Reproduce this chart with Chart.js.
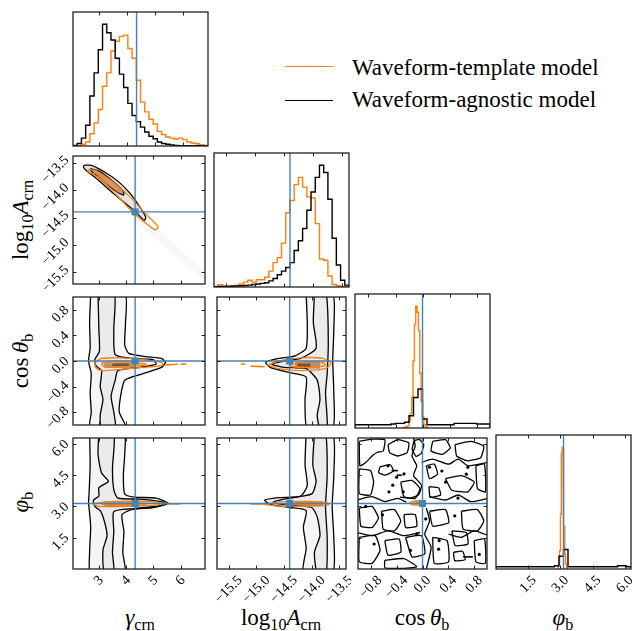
<!DOCTYPE html>
<html>
<head>
<meta charset="utf-8">
<script src="https://cdn.jsdelivr.net/npm/chart.js@4.4.0/dist/chart.umd.min.js"></script>
<style>
  html, body { margin: 0; padding: 0; background: #fff; }
  body { width: 641px; height: 631px; position: relative; overflow: hidden;
         font-family: "Liberation Serif", "DejaVu Serif", serif; color: #000; }
  canvas { position: absolute; }
  .xt, .yt { position: absolute; font-family: "Liberation Serif", serif; font-size: 23px; line-height: 23px; white-space: nowrap; }
  .xt { top: 606px; transform: translateX(-50%); }
  .yt { transform: translate(-50%, -50%) rotate(-90deg); }
  .s { font-size: 70%; position: relative; top: 0.3em; }
  .leg-line { position: absolute; left: 285px; width: 48px; height: 0; }
  .leg-text { position: absolute; left: 352px; font-size: 23px; line-height: 23px; white-space: nowrap; }
</style>
</head>
<body>

<div class="xt" style="left:140px"><i>γ</i><span class="s">crn</span></div>
<div class="xt" style="left:281px">log<span class="s">10</span><i>A</i><span class="s">crn</span></div>
<div class="xt" style="left:422px">cos&#8201;<i>θ</i><span class="s">b</span></div>
<div class="xt" style="left:563px"><i>φ</i><span class="s">b</span></div>

<div class="yt" style="left:21px; top:220px">log<span class="s">10</span><i>A</i><span class="s">crn</span></div>
<div class="yt" style="left:21px; top:361px">cos&#8201;<i>θ</i><span class="s">b</span></div>
<div class="yt" style="left:21px; top:502px"><i>φ</i><span class="s">b</span></div>

<div class="leg-line" style="top:66px; border-top:1.5px solid #ff7f0e"></div>
<div class="leg-text" style="top:56px">Waveform-template model</div>
<div class="leg-line" style="top:100px; border-top:1.5px solid #000"></div>
<div class="leg-text" style="top:88px">Waveform-agnostic model</div>

<script>
// axis ranges, ticks and true values
const gammaRange = [2.05, 6.9];
const logARange = [-15.71, -13.38];
const cosRange = [-1, 1];
const phiRange = [0, 6.283];
const histRange = [0, 1.1];

const gammaTicks = [3, 4, 5, 6];
const logATicks = [-15.5, -15.0, -14.5, -14.0, -13.5];
const cosTicks = [-0.8, -0.4, 0.0, 0.4, 0.8];
const phiTicks = [1.5, 3.0, 4.5, 6.0];

const gammaTrue = 4.333;
const logATrue = -14.398;
const cosTrue = 0.0;
const phiTrue = 3.1416;

// 1D histograms (normalised heights), bins spread evenly over the given range
const gammaHistBlack = [0.005, 0.02, 0.065, 0.17, 0.41, 0.60, 0.79, 1.0, 0.93, 0.87, 0.72, 0.59, 0.48, 0.35, 0.25, 0.20,
  0.155, 0.115, 0.08, 0.06, 0.033, 0.02, 0.014, 0.008, 0.005, 0.003, 0.003, 0.003, 0.002, 0.002, 0.001, 0.001];
const gammaHistOrange = [0, 0.003, 0.014, 0.033, 0.10, 0.19, 0.30, 0.49, 0.60, 0.78, 0.86, 0.90, 0.91, 0.80, 0.72, 0.54,
  0.36, 0.28, 0.22, 0.18, 0.12, 0.095, 0.074, 0.065, 0.057, 0.065, 0.052, 0.033, 0.025, 0.019, 0.011, 0.005];

const logAHistBlack = [0.003, 0.005, 0.005, 0.005, 0.006, 0.008, 0.01, 0.012, 0.015, 0.02, 0.025, 0.03, 0.035, 0.05, 0.07, 0.10,
  0.13, 0.16, 0.20, 0.30, 0.38, 0.48, 0.63, 0.78, 0.90, 1.0, 0.94, 0.72, 0.40, 0.18, 0.055, 0.015];
const logAHistOrange = [0.005, 0.018, 0.008, 0.008, 0.01, 0.012, 0.025, 0.04, 0.055, 0.04, 0.06, 0.06, 0.08, 0.13, 0.20, 0.24,
  0.36, 0.61, 0.71, 0.84, 0.90, 0.82, 0.74, 0.73, 0.52, 0.23, 0.22, 0.09, 0.02, 0.01, 0.005, 0];

const cosHistBlack = [0.027, 0.027, 0.027, 0.027, 0.027, 0.027, 0.027, 0.027, 0.033, 0.038, 0.038, 0.047, 0.10, 0.25, 0.32,
  0.074, 0.027, 0.027, 0.027, 0.027, 0.027, 0.027, 0.038, 0.038, 0.038, 0.038, 0.038, 0.033, 0.033, 0.033];
const cosOrangeBins = [-0.3, 0.1];
const cosHistOrange = [0, 0.005, 0.008, 0.01, 0.015, 0.06, 0.12, 0.25, 0.55, 0.85, 1.0, 0.95, 0.80, 0.45, 0.22, 0.09, 0.03, 0.01, 0.005, 0];

const phiHistBlack = [0.019, 0.019, 0.019, 0.019, 0.019, 0.019, 0.019, 0.019, 0.019, 0.019, 0.019, 0.019, 0.019, 0.027, 0.105,
  0.16, 0.019, 0.019, 0.019, 0.019, 0.019, 0.019, 0.019, 0.019, 0.019, 0.019, 0.019, 0.027, 0.027, 0.019];
const phiOrangeBins = [2.88, 3.32];
const phiHistOrange = [0.02, 0.05, 0.15, 0.45, 0.95, 1.0, 0.7, 0.35, 0.12, 0.04, 0.01];

// 2D contours, [x, y] in data units
const gammaLogABlack = [
  [[2.45, -13.55], [2.73, -13.55], [3.27, -13.69], [3.75, -13.86], [4.18, -14.08], [4.48, -14.29], [4.72, -14.49], [4.66, -14.55],
   [4.36, -14.40], [3.87, -14.20], [3.39, -14.0], [2.91, -13.79], [2.55, -13.65], [2.43, -13.58]],
  [[2.69, -13.61], [3.03, -13.66], [3.51, -13.84], [3.90, -14.02], [3.90, -14.09], [3.57, -14.0], [3.15, -13.82], [2.79, -13.69], [2.69, -13.63]]
];
const gammaLogAOrange = [
  [[2.64, -13.62], [2.91, -13.65], [3.51, -13.85], [4.12, -14.11], [4.60, -14.37], [5.02, -14.58], [5.18, -14.67], [5.06, -14.72],
   [4.72, -14.60], [4.23, -14.40], [3.75, -14.14], [3.27, -13.91], [2.85, -13.73], [2.60, -13.66]],
  [[2.85, -13.68], [3.27, -13.78], [3.73, -13.97], [3.75, -14.04], [3.39, -13.91], [2.97, -13.76], [2.80, -13.71]]
];
const gammaLogAShade = [[4.3, -14.35], [6.85, -15.45], [6.8, -15.62], [4.3, -14.55]];

const gammaCosBlack = [
  [[2.70, 1.05], [2.66, 0.6], [2.68, 0.2], [2.62, 0.0], [2.72, -0.2], [2.68, -0.5], [2.72, -0.8], [2.68, -1.05], [3.99, -1.05],
   [3.75, -0.8], [3.80, -0.55], [3.95, -0.3], [4.6, -0.2], [5.3, -0.1], [5.45, -0.02], [5.3, 0.04], [4.7, 0.07], [4.1, 0.12],
   [3.95, 0.25], [3.98, 0.6], [3.96, 1.05]],
  [[2.97, 1.05], [3.0, 0.5], [3.02, 0.15], [2.85, 0.02], [2.9, -0.08], [3.1, -0.15], [3.05, -0.4], [3.15, -0.6], [3.05, -0.85],
   [3.1, -1.05], [3.6, -1.05], [3.55, -0.8], [3.45, -0.55], [3.6, -0.3], [3.7, -0.15], [4.5, -0.1], [5.1, -0.05], [5.0, 0.02],
   [4.2, 0.04], [3.6, 0.1], [3.55, 0.5], [3.57, 1.05]]
];
const gammaCosOrange = [
  [[2.85, -0.02], [3.1, 0.04], [3.8, 0.05], [4.5, 0.03], [5.3, -0.02], [5.35, -0.07], [4.6, -0.1], [3.8, -0.13], [3.1, -0.15], [2.88, -0.1]],
  [[3.1, -0.03], [3.6, 0.0], [4.3, -0.02], [4.75, -0.05], [4.3, -0.08], [3.6, -0.09], [3.15, -0.08]]
];
const gammaCosOrangeTail = [[[5.45, -0.06], [5.9, -0.05]], [[6.0, -0.05], [6.22, -0.05]]];
const gammaCosCore = [[[3.2, -0.02], [4.35, -0.02], [4.35, -0.11], [3.2, -0.11]], [[3.5, -0.04], [4.1, -0.04], [4.1, -0.09], [3.5, -0.09]]];

const logACosBlack = [
  [[-14.1, 1.05], [-14.08, 0.6], [-14.1, 0.2], [-14.3, 0.08], [-14.6, 0.04], [-14.83, -0.02], [-14.75, -0.1], [-14.4, -0.18],
   [-14.1, -0.25], [-14.12, -0.6], [-14.08, -1.05], [-13.62, -1.05], [-13.6, -0.5], [-13.62, 0], [-13.6, 0.5], [-13.62, 1.05]],
  [[-13.95, 1.05], [-13.97, 0.6], [-13.92, 0.2], [-14.2, 0.04], [-14.5, 0.0], [-14.72, -0.05], [-14.5, -0.1], [-14.1, -0.12],
   [-13.9, -0.3], [-13.85, -0.6], [-13.9, -0.85], [-13.85, -1.05], [-13.72, -1.05], [-13.75, -0.5], [-13.72, -0.2], [-13.7, 0.3], [-13.74, 1.05]]
];
const logACosOrange = [
  [[-14.8, -0.06], [-14.6, 0.0], [-14.2, 0.05], [-13.8, 0.04], [-13.65, -0.03], [-13.75, -0.12], [-14.2, -0.15], [-14.6, -0.12]],
  [[-14.4, -0.05], [-14.1, -0.01], [-13.8, -0.02], [-13.75, -0.07], [-14.0, -0.1], [-14.35, -0.09]]
];
const logACosOrangeTail = [[[-15.1, -0.08], [-14.85, -0.09]], [[-15.28, -0.05], [-15.2, -0.05]]];
const logACosCore = [[[-14.3, -0.01], [-13.85, -0.01], [-13.85, -0.12], [-14.3, -0.12]], [[-14.26, -0.04], [-14.02, -0.04], [-14.02, -0.09], [-14.26, -0.09]]];

const gammaPhiBlack = [
  [[2.66, 6.5], [2.68, 5.0], [2.64, 3.6], [2.62, 3.2], [2.65, 2.8], [2.7, 2.0], [2.66, 0.8], [2.7, -0.2], [3.95, -0.2], [3.88, 0.8],
   [3.92, 1.8], [3.85, 2.6], [4.2, 2.85], [5.0, 2.95], [5.55, 3.15], [5.1, 3.4], [4.3, 3.45], [3.95, 3.6], [3.9, 4.5], [3.95, 5.5], [3.92, 6.5]],
  [[3.0, 6.5], [2.97, 5.5], [3.1, 4.6], [3.35, 4.2], [3.0, 3.9], [3.0, 3.5], [2.8, 3.3], [2.85, 3.0], [3.05, 2.8], [3.2, 2.3], [3.3, 1.6],
   [3.15, 0.9], [3.2, -0.2], [3.55, -0.2], [3.5, 0.8], [3.55, 1.8], [3.55, 2.75], [4.3, 2.9], [5.3, 3.05], [5.4, 3.2], [4.5, 3.35],
   [3.7, 3.4], [3.55, 3.8], [3.5, 4.8], [3.55, 6.5]]
];
const gammaPhiOrange = [
  [[2.78, 3.1], [3.2, 3.22], [4.3, 3.25], [5.2, 3.2], [5.4, 3.14], [5.0, 3.05], [4.0, 3.0], [3.0, 3.0]],
  [[3.1, 3.1], [4.0, 3.17], [4.8, 3.15], [4.5, 3.06], [3.4, 3.05]]
];
const gammaPhiOrangeTail = [[[5.5, 3.12], [6.0, 3.12]]];
const gammaPhiCore = [[[3.2, 3.0], [4.4, 3.0], [4.4, 3.25], [3.2, 3.25]]];

const logAPhiBlack = [
  [[-14.1, 6.5], [-14.12, 5.0], [-14.08, 4.0], [-14.2, 3.5], [-14.6, 3.42], [-14.85, 3.3], [-14.75, 3.1], [-14.4, 2.95], [-14.1, 2.8],
   [-14.15, 2.0], [-14.1, 1.0], [-14.15, -0.2], [-13.62, -0.2], [-13.6, 1.5], [-13.63, 3.0], [-13.6, 4.5], [-13.62, 6.5]],
  [[-13.95, 6.5], [-13.98, 5.0], [-13.92, 4.2], [-14.0, 3.6], [-14.5, 3.35], [-14.7, 3.2], [-14.4, 3.05], [-14.0, 2.95], [-13.9, 2.5],
   [-13.85, 1.6], [-13.95, 0.8], [-13.9, -0.2], [-13.74, -0.2], [-13.72, 1.5], [-13.75, 3.0], [-13.72, 4.5], [-13.75, 6.5]]
];
const logAPhiOrange = [
  [[-14.85, 3.1], [-14.6, 3.22], [-14.0, 3.24], [-13.72, 3.18], [-13.7, 3.08], [-14.0, 3.02], [-14.6, 3.02]],
  [[-14.5, 3.12], [-14.1, 3.18], [-13.8, 3.14], [-14.1, 3.07]]
];
const logAPhiOrangeTail = [[[-15.1, 3.12], [-14.85, 3.12]]];
const logAPhiCore = [[[-14.3, 3.0], [-13.8, 3.0], [-13.8, 3.25], [-14.3, 3.25]]];

// cos vs phi is almost flat for the agnostic model: many small noisy loops and wiggly lines
const cosPhiBlack = [
  [[-0.98, 6.12], [-0.782, 6.23], [-0.584, 6.20], [-0.609, 5.66], [-0.70, 5.60], [-0.782, 5.42], [-0.88, 5.11], [-0.97, 4.95]],
  [[-0.535, 5.97], [-0.386, 6.20], [-0.213, 6.05], [-0.238, 5.58], [-0.386, 5.42], [-0.51, 5.58]],
  [[-0.13, 6.15], [-0.05, 6.22], [0.02, 5.95], [-0.02, 5.55], [-0.10, 5.40], [-0.16, 5.75]],
  [[0.158, 6.12], [0.357, 6.20], [0.431, 5.81], [0.307, 5.50], [0.134, 5.66]],
  [[0.505, 5.97], [0.752, 6.12], [0.95, 5.89], [0.901, 5.34], [0.703, 5.19], [0.53, 5.42]],
  [[-0.98, 4.80], [-0.807, 4.72], [-0.758, 4.17], [-0.807, 3.55], [-0.98, 3.62]],
  [[-0.66, 4.90], [-0.50, 5.00], [-0.45, 4.70], [-0.58, 4.50], [-0.68, 4.62]],
  [[-0.337, 4.17], [-0.163, 4.25], [-0.04, 3.86], [-0.114, 3.39], [-0.287, 3.47]],
  [[0.059, 4.95], [0.183, 5.03], [0.233, 4.56], [0.109, 4.33]],
  [[0.357, 4.33], [0.604, 4.48], [0.802, 4.17], [0.703, 3.70], [0.455, 3.78]],
  [[0.827, 4.95], [0.96, 5.03], [0.975, 3.70], [0.851, 3.86]],
  [[0.10, 3.95], [0.25, 3.90], [0.28, 3.55], [0.12, 3.45]],
  [[-0.98, 2.92], [-0.782, 3.0], [-0.683, 2.45], [-0.782, 1.99], [-0.955, 2.06]],
  [[-0.634, 2.77], [-0.436, 2.85], [-0.337, 2.30], [-0.436, 1.83], [-0.609, 1.91]],
  [[-0.287, 2.61], [-0.114, 2.61], [-0.09, 2.06], [-0.262, 1.99]],
  [[0.109, 2.77], [0.357, 2.85], [0.406, 2.22], [0.158, 2.06]],
  [[0.604, 2.77], [0.851, 2.85], [0.95, 2.30], [0.851, 1.83], [0.629, 1.91]],
  [[-0.98, 1.52], [-0.733, 1.60], [-0.658, 0.89], [-0.782, 0.27], [-0.98, 0.35]],
  [[-0.584, 1.36], [-0.362, 1.44], [-0.337, 0.81], [-0.535, 0.66]],
  [[-0.262, 1.52], [-0.015, 1.60], [0.035, 0.73], [-0.163, 0.58]],
  [[0.158, 1.52], [0.381, 1.36], [0.406, 0.35], [0.183, 0.27]],
  [[0.455, 1.83], [0.678, 1.75], [0.703, 1.20], [0.505, 1.13]],
  [[0.802, 1.36], [0.96, 1.44], [0.975, 0.27], [0.827, 0.35]],
  [[-0.584, 0.42], [-0.287, 0.50], [-0.09, 0.11], [-0.337, 0.03], [-0.584, 0.06]],
  [[0.48, 0.80], [0.62, 0.85], [0.66, 0.45], [0.50, 0.40]]
];
const cosPhiWiggles = [
  [[-0.139, 6.3], [-0.114, 5.89], [-0.163, 5.42], [-0.09, 4.95], [-0.139, 4.48], [-0.015, 4.02], [-0.065, 3.55], [-0.2, 3.4], [-0.35, 3.45]],
  [[-1.02, 3.31], [-0.782, 3.47], [-0.584, 3.23], [-0.386, 3.39], [-0.25, 3.2]],
  [[0.10, 3.47], [0.357, 3.31], [0.554, 3.55], [0.752, 3.23], [1.02, 3.39]],
  [[0.059, 2.92], [0.109, 2.30], [0.035, 1.67], [0.134, 1.05], [0.059, 0.0]],
  [[-1.02, 1.75], [-0.782, 1.60], [-0.535, 1.83], [-0.287, 1.60], [-0.04, 1.75]],
  [[0.406, 1.67], [0.604, 1.52], [0.802, 1.83], [1.02, 1.60]],
  [[-0.015, 5.11], [0.158, 5.27], [0.406, 5.03], [0.554, 5.27], [0.703, 4.95], [1.02, 5.11]]
];
const cosPhiDots = [[-0.534, 4.95], [-0.287, 4.56], [-0.46, 4.02], [0.109, 4.88], [0.357, 4.17], [0.703, 4.88],
  [-0.88, 3.0], [-0.088, 1.67], [0.258, 1.36], [-0.188, 0.89], [-0.40, 4.40], [-0.52, 3.70], [0.30, 4.70], [0.55, 3.40],
  [-0.62, 2.60], [0.05, 2.40], [0.50, 2.55], [-0.75, 1.20], [0.25, 0.95], [0.88, 0.70], [-0.30, 3.70], [0.68, 4.55]];
const cosPhiDash = [[[0.63, 0.58], [0.78, 0.58]], [[-0.48, 4.72], [-0.38, 4.72]], [[-0.40, 4.50], [-0.32, 4.50]]];
const cosPhiOrange = [[[-0.21, 3.18], [-0.1, 3.28], [-0.02, 3.22], [-0.03, 3.1], [-0.15, 3.08]]];
const cosPhiCore = [[[-0.1, 3.1], [-0.02, 3.1], [-0.02, 3.25], [-0.1, 3.25]]];

// ---- layout of the grid ----
const PX = [73, 214, 355, 496];
const PY = [12, 153, 294, 435];
const PW = 135, PH = 134;
const ORANGE = '#ff7f0e', TRUTH = '#4682b4';
const TICK_FONT = '14px "Liberation Serif", "DejaVu Serif", serif';

const pts = a => a.map(([x, y]) => ({ x, y }));
const closed = a => pts(a.concat([a[0]]));
const fmt = (v, d) => Number(v).toFixed(d).replace('-', '\u2212');

function stepLine(range, counts) {
  const w = (range[1] - range[0]) / counts.length;
  const out = [{ x: range[0], y: 0 }];
  counts.forEach((c, i) => { out.push({ x: range[0] + i * w, y: c }, { x: range[0] + (i + 1) * w, y: c }); });
  out.push({ x: range[1], y: 0 });
  return out;
}

const line = (data, color, width, tension) => ({ data, borderColor: color, borderWidth: width, pointRadius: 0, fill: false, tension: tension || 0 });
const loop = (poly, color, width, tension) => ({ data: closed(poly), borderColor: color, borderWidth: width, pointRadius: 0, fill: false, tension: tension || 0 });
const area = (poly, fillColor) => ({ data: closed(poly), borderWidth: 0, borderColor: 'rgba(0,0,0,0)', backgroundColor: fillColor, pointRadius: 0, fill: 'shape', tension: 0 });

function truthSets(xr, yr, xt, yt) {
  const sets = [line(pts([[xt, yr[0]], [xt, yr[1]]]), TRUTH, 1.4)];
  if (yt !== null) {
    sets.push(line(pts([[xr[0], yt], [xr[1], yt]]), TRUTH, 1.4));
    sets.push({ data: pts([[xt, yt]]), showLine: false, pointStyle: 'rect', pointRadius: 5, backgroundColor: TRUTH, borderWidth: 0 });
  }
  return sets;
}

// frame, inward ticks and 45-degree tick labels like the corner plot
const framePlugin = {
  id: 'frame',
  afterDatasetsDraw(chart, args, opts) {
    const { ctx, chartArea: a, scales } = chart;
    ctx.save();
    ctx.strokeStyle = '#222';
    ctx.lineWidth = 1;
    ctx.beginPath();
    (opts.xTicks || []).forEach(v => {
      const p = Math.round(scales.x.getPixelForValue(v)) + 0.5;
      ctx.moveTo(p, a.top); ctx.lineTo(p, a.top + 3.5);
      ctx.moveTo(p, a.bottom); ctx.lineTo(p, a.bottom - 3.5);
    });
    (opts.yTicks || []).forEach(v => {
      const p = Math.round(scales.y.getPixelForValue(v)) + 0.5;
      ctx.moveTo(a.left, p); ctx.lineTo(a.left + 3.5, p);
      ctx.moveTo(a.right, p); ctx.lineTo(a.right - 3.5, p);
    });
    ctx.stroke();
    ctx.lineWidth = 1.3;
    ctx.strokeRect(a.left, a.top, a.right - a.left, a.bottom - a.top);

    ctx.font = TICK_FONT;
    ctx.fillStyle = '#000';
    ctx.textAlign = 'center';
    ctx.textBaseline = 'middle';
    const k = Math.SQRT1_2, capH = 9;
    if (opts.showX) opts.xTicks.forEach(v => {
      const t = fmt(v, opts.xDigits), box = (ctx.measureText(t).width + capH) * k;
      ctx.save();
      ctx.translate(scales.x.getPixelForValue(v), a.bottom + 6 + box / 2);
      ctx.rotate(-Math.PI / 4);
      ctx.fillText(t, 0, 0);
      ctx.restore();
    });
    if (opts.showY) opts.yTicks.forEach(v => {
      const t = fmt(v, opts.yDigits), box = (ctx.measureText(t).width + capH) * k;
      ctx.save();
      ctx.translate(a.left - 3 - box / 2, scales.y.getPixelForValue(v) + 0.24 * box);
      ctx.rotate(-Math.PI / 4);
      ctx.fillText(t, 0, 0);
      ctx.restore();
    });
    ctx.restore();
  }
};

const axis = range => ({ type: 'linear', min: range[0], max: range[1], display: false });

function panel(col, row, o) {
  const showX = row === 3, showY = col === 0 && row > 0;
  const padL = showY ? 73 : 2, padB = showX ? 62 : 2;
  const c = document.createElement('canvas');
  c.width = padL + PW + 2;
  c.height = 2 + PH + padB;
  c.style.left = (PX[col] - padL) + 'px';
  c.style.top = (PY[row] - 2) + 'px';
  document.body.appendChild(c);
  // dataset 0 is painted last, so reverse the bottom-to-top list
  new Chart(c, {
    type: 'line',
    data: { datasets: o.sets.slice().reverse() },
    options: {
      responsive: false, animation: false, devicePixelRatio: 1, events: [],
      layout: { padding: { left: padL, right: 2, top: 2, bottom: padB } },
      plugins: {
        legend: { display: false }, tooltip: { enabled: false },
        frame: { xTicks: o.xTicks, yTicks: o.yTicks, xDigits: o.xDigits, yDigits: o.yDigits, showX, showY }
      },
      scales: { x: axis(o.xRange), y: axis(o.yRange) }
    },
    plugins: [framePlugin]
  });
}

// ---- diagonal histograms ----
panel(0, 0, { xRange: gammaRange, xTicks: gammaTicks, xDigits: 0, yRange: histRange, yTicks: [],
  sets: [line(stepLine(gammaRange, gammaHistOrange), ORANGE, 1.4), line(stepLine(gammaRange, gammaHistBlack), '#000', 1.4),
         ...truthSets(gammaRange, histRange, gammaTrue, null)] });
panel(1, 1, { xRange: logARange, xTicks: logATicks, xDigits: 1, yRange: histRange, yTicks: [],
  sets: [line(stepLine(logARange, logAHistOrange), ORANGE, 1.4), line(stepLine(logARange, logAHistBlack), '#000', 1.4),
         ...truthSets(logARange, histRange, logATrue, null)] });
panel(2, 2, { xRange: cosRange, xTicks: cosTicks, xDigits: 1, yRange: histRange, yTicks: [],
  sets: [line(stepLine(cosOrangeBins, cosHistOrange), ORANGE, 1.4), line(stepLine(cosRange, cosHistBlack), '#000', 1.4),
         ...truthSets(cosRange, histRange, cosTrue, null)] });
panel(3, 3, { xRange: phiRange, xTicks: phiTicks, xDigits: 1, yRange: histRange, yTicks: [],
  sets: [line(stepLine(phiOrangeBins, phiHistOrange), ORANGE, 1.4), line(stepLine(phiRange, phiHistBlack), '#000', 1.4),
         ...truthSets(phiRange, histRange, phiTrue, null)] });

// ---- off-diagonal 2D panels ----
function stripPanel(col, row, xr, xt, xd, yr, yt, yd, black, orange, tails, cores, xTrue, yTrue) {
  const sets = [
    area(black[0], '#f5f5f5'), area(black[1], '#ebebeb'),
    ...cores.map((p, i) => area(p, i === 0 ? '#9a9a9a' : '#3a3a3a')),
    loop(black[0], '#000', 1.3, 0.2), loop(black[1], '#000', 1.3, 0.2),
    area(orange[1], 'rgba(255,127,14,0.35)'),
    loop(orange[0], ORANGE, 1.3, 0.2), loop(orange[1], ORANGE, 1.3, 0.2),
    ...tails.map(t => line(pts(t), ORANGE, 1.6)),
    ...truthSets(xr, yr, xTrue, yTrue)
  ];
  panel(col, row, { xRange: xr, xTicks: xt, xDigits: xd, yRange: yr, yTicks: yt, yDigits: yd, sets });
}

panel(0, 1, { xRange: gammaRange, xTicks: gammaTicks, xDigits: 0, yRange: logARange, yTicks: logATicks, yDigits: 1,
  sets: [area(gammaLogAShade, '#f7f7f7'), area(gammaLogABlack[0], '#e4e4e4'), area(gammaLogABlack[1], '#a8a8a8'),
         loop(gammaLogABlack[0], '#000', 1.3, 0.3), loop(gammaLogABlack[1], '#000', 1.3, 0.3),
         loop(gammaLogAOrange[0], ORANGE, 1.3, 0.3), loop(gammaLogAOrange[1], ORANGE, 1.3, 0.3),
         ...truthSets(gammaRange, logARange, gammaTrue, logATrue)] });

stripPanel(0, 2, gammaRange, gammaTicks, 0, cosRange, cosTicks, 1, gammaCosBlack, gammaCosOrange, gammaCosOrangeTail, gammaCosCore, gammaTrue, cosTrue);
stripPanel(1, 2, logARange, logATicks, 1, cosRange, cosTicks, 1, logACosBlack, logACosOrange, logACosOrangeTail, logACosCore, logATrue, cosTrue);
stripPanel(0, 3, gammaRange, gammaTicks, 0, phiRange, phiTicks, 1, gammaPhiBlack, gammaPhiOrange, gammaPhiOrangeTail, gammaPhiCore, gammaTrue, phiTrue);
stripPanel(1, 3, logARange, logATicks, 1, phiRange, phiTicks, 1, logAPhiBlack, logAPhiOrange, logAPhiOrangeTail, logAPhiCore, logATrue, phiTrue);

panel(2, 3, { xRange: cosRange, xTicks: cosTicks, xDigits: 1, yRange: phiRange, yTicks: phiTicks, yDigits: 1,
  sets: [...cosPhiCore.map(p => area(p, '#9a9a9a')),
         ...cosPhiBlack.map(p => loop(p, '#000', 1.3, 0.15)),
         ...cosPhiWiggles.map(p => line(pts(p), '#000', 1.3, 0.2)),
         ...cosPhiDash.map(t => line(pts(t), '#000', 1.6)),
         { data: pts(cosPhiDots), showLine: false, pointRadius: 1.6, pointStyle: 'circle', backgroundColor: '#000', borderWidth: 0 },
         ...cosPhiOrange.map(p => area(p, 'rgba(255,127,14,0.7)')),
         ...cosPhiOrange.map(p => loop(p, ORANGE, 1.3, 0.3)),
         ...truthSets(cosRange, phiRange, cosTrue, phiTrue)] });
</script>
</body>
</html>
